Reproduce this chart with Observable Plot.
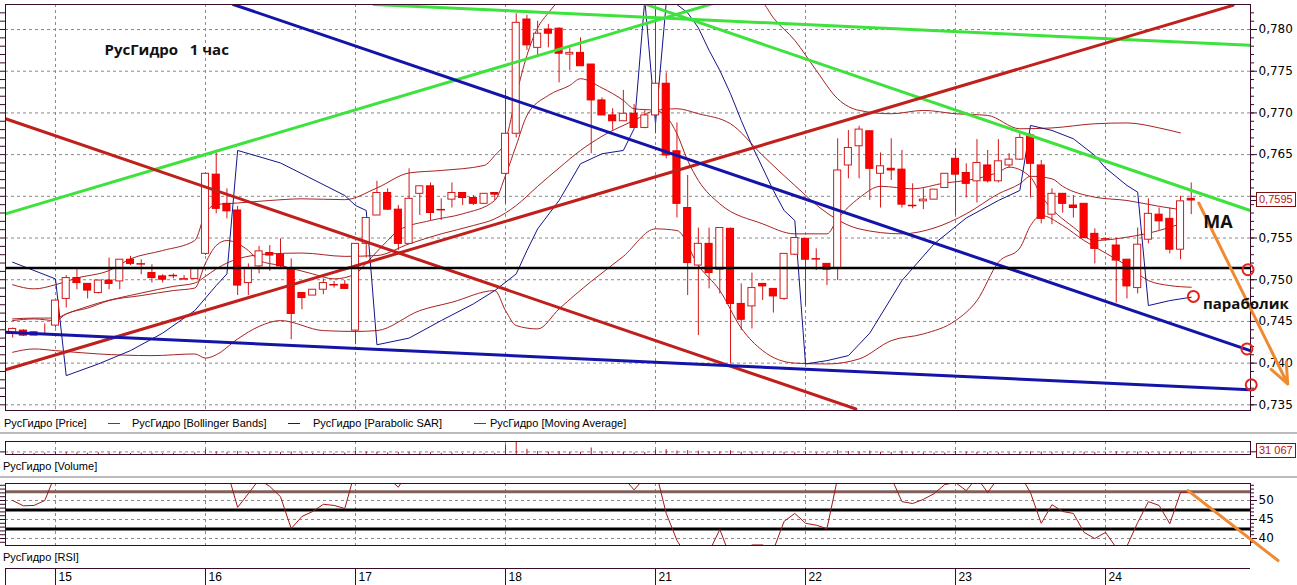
<!DOCTYPE html>
<html><head><meta charset="utf-8">
<script src="https://cdn.jsdelivr.net/npm/d3@7"></script>
<script src="https://cdn.jsdelivr.net/npm/@observablehq/plot@0.6"></script>
<style>
html,body{margin:0;padding:0;background:#fff;}
#root{position:relative;width:1297px;height:585px;overflow:hidden;font-family:"Liberation Sans",Arial,sans-serif;}
#root svg{position:absolute;left:0;overflow:visible;}
.t{position:absolute;font-size:11px;line-height:11px;white-space:pre;color:#000;}
.sw{position:absolute;height:1px;width:12px;}
.sep{position:absolute;left:0;width:1297px;height:2px;background:#bcbcbc;}
.box{position:absolute;border:1px solid #7a1010;background:#fff;color:#c01010;font-size:11px;line-height:13px;padding:0 2px;white-space:pre;}
</style></head><body><div id="root"></div>
<script>
// ---------- data ----------
const days = ["15","16","17","18","21","22","23","24"];
const dayStart = [4,18,32,46,60,74,88,102];

const open = [.7435,.7439,.7437,.7435,
 .7445,.7477,.7502,.7495,.7484,.7499,.7498,.7524,.7519,.7508,.7504,.7505,.7501,.7501,
 .7531,.7626,.7591,.7583,.7496,.7516,.7532,.7530,.7513,.7484,.7481,.7488,.7494,.7494,
 .7439,.7543,.7577,.7604,.7584,.7543,.7603,.7612,.7584,.7596,.7604,.7598,.7591,.7604,
 .7627,.7675,.7812,.7778,.7800,.7801,.7770,.7772,.7758,.7715,.7697,.7690,.7699,.7682,
 .7697,.7735,.7654,.7586,.7517,.7543,.7512,.7561,.7471,.7468,.7495,.7489,.7477,.7530,
 .7549,.7525,.7519,.7514,.7637,.7660,.7678,.7627,.7633,.7632,.7589,.7594,.7596,.7610,
 .7645,.7628,.7618,.7637,.7618,.7637,.7644,.7673,.7637,.7578,.7603,.7589,.7591,.7555,
 .7549,.7541,.7524,.7490,.7548,.7578,.7573,.7536,.7597];
const high = [.7442,.7440,.7438,.7447,
 .7475,.7505,.7512,.7495,.7499,.7526,.7524,.7528,.7524,.7518,.7506,.7507,.7505,.7513,
 .7628,.7652,.7609,.7588,.7519,.7540,.7541,.7549,.7525,.7484,.7488,.7501,.7498,.7499,
 .7543,.7574,.7618,.7609,.7589,.7633,.7612,.7616,.7597,.7616,.7604,.7601,.7603,.7604,
 .7727,.7819,.7817,.7810,.7806,.7802,.7778,.7790,.7758,.7718,.7705,.7727,.7710,.7703,
 .7826,.7748,.7688,.7625,.7562,.7562,.7562,.7562,.7495,.7508,.7495,.7489,.7531,.7550,
 .7549,.7537,.7519,.7669,.7679,.7684,.7678,.7652,.7669,.7655,.7615,.7609,.7608,.7627,
 .7657,.7639,.7668,.7655,.7668,.7651,.7675,.7675,.7643,.7609,.7603,.7601,.7591,.7561,
 .7550,.7550,.7524,.7562,.7597,.7586,.7586,.7600,.7616];
const low = [.7430,.7432,.7433,.7433,
 .7442,.7466,.7488,.7477,.7483,.7488,.7488,.7517,.7506,.7496,.7496,.7501,.7500,.7500,
 .7529,.7579,.7573,.7481,.7481,.7507,.7510,.7514,.7428,.7464,.7481,.7482,.7490,.7489,
 .7422,.7526,.7577,.7583,.7535,.7543,.7577,.7571,.7571,.7586,.7589,.7589,.7591,.7595,
 .7591,.7670,.7775,.7769,.7778,.7736,.7751,.7756,.7651,.7697,.7679,.7690,.7682,.7681,
 .7675,.7645,.7574,.7481,.7433,.7489,.7483,.7399,.7439,.7441,.7475,.7460,.7475,.7529,
 .7469,.7511,.7493,.7499,.7621,.7621,.7595,.7586,.7619,.7586,.7585,.7584,.7596,.7610,
 .7577,.7598,.7592,.7616,.7616,.7634,.7643,.7598,.7567,.7566,.7580,.7574,.7549,.7519,
 .7548,.7472,.7477,.7483,.7543,.7559,.7531,.7524,.7578];
const close = [.7441,.7433,.7433,.7435,
 .7475,.7502,.7496,.7487,.7499,.7495,.7524,.7519,.7519,.7502,.7500,.7505,.7501,.7513,
 .7627,.7585,.7582,.7493,.7513,.7534,.7529,.7516,.7459,.7478,.7488,.7496,.7494,.7489,
 .7543,.7574,.7604,.7584,.7543,.7597,.7612,.7580,.7584,.7604,.7598,.7591,.7603,.7602,
 .7675,.7808,.7781,.7795,.7795,.7771,.7772,.7756,.7715,.7697,.7690,.7699,.7682,.7697,
 .7735,.7649,.7591,.7520,.7543,.7508,.7562,.7471,.7452,.7490,.7492,.7480,.7531,.7550,
 .7524,.7525,.7512,.7631,.7658,.7680,.7633,.7636,.7631,.7590,.7589,.7596,.7608,.7627,
 .7626,.7615,.7640,.7618,.7642,.7644,.7670,.7639,.7573,.7603,.7591,.7586,.7550,.7537,
 .7549,.7523,.7492,.7542,.7579,.7570,.7536,.7594,.7595];
const volume = [14000,9000,12000,16000,
 30000,22000,18000,15000,20000,17000,25000,12000,16000,14000,11000,13000,9000,18000,
 55000,28000,20000,35000,24000,18000,15000,21000,30000,16000,12000,14000,10000,17000,
 40000,30000,26000,18000,22000,25000,17000,20000,14000,16000,12000,15000,11000,13000,
 110000,160000,60000,35000,28000,30000,22000,25000,75000,30000,20000,24000,18000,22000,
 50000,55000,40000,45000,38000,28000,30000,42000,26000,22000,15000,18000,25000,20000,
 30000,20000,18000,45000,35000,28000,40000,25000,22000,38000,20000,18000,15000,17000,
 35000,28000,24000,20000,18000,15000,22000,30000,28000,20000,17000,15000,25000,22000,
 20000,30000,26000,28000,22000,18000,25000,27000,31067];
const rsi = [50.0,48.6,48.7,50.0,
 57,60,59,58,60,59,62,62,61,60,59,59,58,60,
 68,60,58,48.2,51.8,55.5,53.7,51.0,42.6,45.8,47.1,49.0,48.7,47.9,
 58,61,63,56,53.5,58,60,57,58,60,59,58,60,59,
 66,74,70,71,70,65,65,62,57,56,57,56,52.8,56,
 58,46.6,39.5,35,37,36.5,42.4,35,36,38.3,38.3,37,44.5,46.6,
 44,43.5,42.6,56,60,62,58,57,56,49.7,49.2,50.3,51.8,54.2,
 54.7,52.6,56,52.1,56,59,57,52,44,48.9,47.1,46.6,41.6,40,
 41.6,37.6,38.0,44.2,49.7,48.7,43.9,52.1,52.3];

// indicator lines: [bar, value]
const bbUpper = [[0,.7494],[2,.7489],[4,.7494],[6,.7502],[9,.7511],[11,.7525],[14,.7535],[17,.7547],[18,.7580],[19,.7590],[21,.7592],[24,.7595],[27,.7597],[31,.7596],[34,.7610],[37,.7628],[40,.7631],[44,.7637],[45,.7649],[46,.7667],[47,.7721],[48,.7769],[49,.7802],[50,.7820],[51,.7835],[54,.7865],[58,.7883],[62,.7877],[66,.7853],[69,.7837],[70,.7832],[71,.7814],[73,.7787],[75,.7751],[77,.7717],[79,.7703],[82,.7699],[85,.7703],[88,.7699],[91,.7697],[94,.7681],[97,.7682],[101,.7687],[104,.7688],[107,.7682],[109,.7676]];
const bbMiddle = [[0,.7453],[2,.7454],[4,.7454],[5,.7459],[8,.7472],[12,.7484],[15,.7492],[17,.7496],[18,.7504],[19,.7513],[21,.7525],[24,.7531],[27,.7532],[31,.7528],[34,.7529],[37,.7543],[40,.7555],[43,.7565],[45,.7573],[47,.7589],[49,.7612],[51,.7634],[53,.7655],[55,.7672],[58,.7691],[60,.7703],[62,.7705],[64,.7699],[67,.7687],[70,.7649],[73,.7613],[76,.7580],[79,.7561],[83,.7555],[86,.7562],[89,.7579],[92,.7603],[94,.7615],[95,.7624],[97,.7621],[98,.7612],[101,.7599],[104,.7595],[107,.7588],[109,.7584]];
const bbLower = [[0,.7413],[2,.7417],[4,.7415],[8,.7411],[13,.7409],[17,.7411],[18,.7406],[19,.7410],[21,.7429],[23,.7444],[25,.7451],[29,.7439],[32,.7438],[34,.7439],[38,.7463],[41,.7473],[45,.7487],[46,.7463],[47,.7445],[49,.7441],[51,.7465],[54,.7498],[57,.7528],[60,.7561],[62,.7559],[64,.7517],[66,.7487],[68,.7442],[70,.7415],[73,.7400],[76,.7399],[79,.7405],[82,.7427],[85,.7435],[88,.7451],[90,.7475],[92,.7521],[94,.7538],[95,.7565],[96,.7577],[98,.7565],[100,.7547],[102,.7532],[104,.7517],[106,.7499],[108,.7493],[110,.7491]];
const movingAvg = [[0,.7451],[2,.7453],[4,.7451],[5,.7459],[7,.7466],[9,.7475],[12,.7481],[15,.7487],[17,.7490],[18,.7520],[19,.7541],[20,.7547],[22,.7535],[23,.7523],[25,.7517],[28,.7507],[30,.7501],[32,.7507],[33,.7520],[35,.7547],[36,.7559],[39,.7571],[42,.7579],[45,.7595],[46,.7625],[47,.7661],[48,.7697],[50,.7721],[52,.7733],[53,.7741],[55,.7730],[57,.7715],[58,.7705],[60,.7703],[61,.7696],[62,.7675],[63,.7643],[64,.7619],[66,.7591],[70,.7567],[73,.7555],[76,.7555],[77,.7573],[79,.7598],[81,.7612],[84,.7609],[87,.7616],[89,.7619],[92,.7629],[93,.7635],[95,.7623],[96,.7601],[99,.7563],[101,.7547],[104,.7551],[107,.7559],[109,.7567]];
const parabolicSar = [[0,.7521],[4,.7501],[5,.7385],[8,.7399],[11,.7415],[14,.7436],[17,.7463],[19,.7493],[20,.7507],[21,.7655],[25,.7640],[31,.7601],[32,.7589],[33,.7583],[34,.7422],[37,.7430],[40,.7451],[43,.7471],[45,.7487],[47,.7507],[48,.7535],[49,.7561],[51,.7595],[53,.7639],[55,.7651],[57,.7655],[58,.7681],[59,.7836],[60,.7687],[61,.7832],[62,.7830],[63,.7820],[64,.7802],[65,.7775],[66,.7751],[67,.7723],[68,.7691],[69,.7661],[70,.7634],[71,.7607],[72,.7583],[73,.7571],[74,.7399],[76,.7403],[78,.7409],[80,.7436],[83,.7499],[86,.7543],[89,.7574],[92,.7595],[94,.7607],[95,.7685],[97,.7679],[99,.7669],[101,.7649],[102,.7634],[104,.7613],[105,.7605],[106,.7469],[108,.7475],[110,.7479]];

// hand-drawn analysis lines: endpoints [bar, price]
const greenLines = [[[-0.666,.7579],[65.6,.7832]], [[33.7,.7830],[115.5,.7781]], [[58.9,.7831],[115.5,.7583]]];
const redLines = [[[-0.666,.7693],[78.7,.7345]], [[-0.666,.7392],[113.9,.7829]]];
const blueLines = [[[20.6,.7830],[115.5,.7415]], [[-0.666,.7437],[115.5,.7368]]];
const supportLevel = [0.7514];
const markCircles = [[115.3,.7512],[110.2,.7480],[115.2,.7417],[115.6,.7374]];
const arrowPrice = [{x1:110.7, y1:.7592, x2:119.0, y2:.7375}];
const arrowRsi = [[109.7,52.6],[118.1,34.2]];
const labelMA = [{text:"MA", i:112.5, v:.7569}];
const labelSar = [{text:"параболик", i:115.1, v:.7471}];
const title = ["РусГидро   1 час"];

const priceTicks = d3.range(735, 781, 5).map(v => v/1000);
const priceMinor = d3.range(735, 783).map(v => v/1000);
const rsiTicks = [40,45,50];
const rsiMinor = d3.range(39,55);
const rsiBlackLevels = [47.5, 42.5];
const rsiBrownLevel = [52.3];
const volGrid = [30000];

// ---------- drawing ----------
const root = document.getElementById("root");
const xDomain = [-0.666, 115.53];
const frameC = "#3a0a2a", gridC = "#8a8a8a";
const dash = {stroke: gridC, strokeDasharray: "3,3", strokeWidth: 1};
const lastClose = close[close.length - 1];
// the last-price box covers the nearest tick label, as in the terminal
const fmt = d => Math.abs(d - lastClose) < 0.0015 ? "" : d.toFixed(3).replace(".", ",");
const pts = a => a.map(([i, v]) => ({i, v}));
const rows = open.map((o, i) => ({i, o, h: high[i], l: low[i], c: close[i]}));
const base = {width: 1297, marginLeft: 5, marginRight: 47,
  style: {fontFamily: "DejaVu Sans", fontSize: "12px", background: "transparent", color: "#000", overflow: "visible"}};
const thin = (data, stroke, curve) => Plot.line(pts(data), {x: "i", y: "v", stroke, strokeWidth: 1, curve, clip: true});
const thick = (lines, stroke) => lines.map(l => Plot.line(pts(l), {x: "i", y: "v", stroke, strokeWidth: 3, clip: true}));

const price = Plot.plot({...base, height: 415, marginTop: 4, marginBottom: 5,
  x: {domain: xDomain, axis: null},
  y: {domain: [0.73432, 0.78300], axis: null},
  marks: [
    Plot.ruleY(priceTicks, dash),
    Plot.ruleX(dayStart, dash),
    thin(bbUpper, "#a82222", "monotone-x"),
    thin(bbMiddle, "#a82222", "monotone-x"),
    thin(bbLower, "#a82222", "monotone-x"),
    thin(movingAvg, "#a82222", "monotone-x"),
    thin(parabolicSar, "#14148a", "linear"),
    Plot.ruleX(rows, {x: "i", y1: "l", y2: "h", stroke: "#d81414", clip: true}),
    Plot.rect(rows.filter(d => d.c < d.o), {x1: d => d.i - 0.33, x2: d => d.i + 0.33, y1: "o", y2: "c", fill: "#ff0000", stroke: "#e00000", clip: true}),
    Plot.rect(rows.filter(d => d.c > d.o), {x1: d => d.i - 0.33, x2: d => d.i + 0.33, y1: "o", y2: "c", fill: "#ffffff", stroke: "#d41a1a", clip: true}),
    Plot.ruleY(rows.filter(d => d.c === d.o), {y: "c", x1: d => d.i - 0.4, x2: d => d.i + 0.4, stroke: "#e00000", strokeWidth: 1.5, clip: true}),
    ...thick(greenLines, "#3de23d"),
    ...thick(redLines, "#c0201c"),
    ...thick(blueLines, "#1414a8"),
    Plot.ruleY(supportLevel, {stroke: "#000", strokeWidth: 2.5}),
    Plot.frame({stroke: frameC}),
    Plot.axisY(priceTicks, {anchor: "right", tickSize: 6, tickPadding: 2, tickFormat: fmt, label: null, stroke: frameC, fill: "#000", fontSize: 12}),
    Plot.axisY(priceMinor, {anchor: "right", tickSize: 3, tickFormat: () => "", label: null, stroke: frameC}),
    Plot.axisY(priceMinor, {anchor: "left", tickSize: 5, tickFormat: () => "", label: null, stroke: frameC}),
    Plot.axisY([lastClose], {anchor: "right", tickSize: 6, tickFormat: () => "", label: null, stroke: frameC}),
    Plot.dot(markCircles, {x: d => d[0], y: d => d[1], r: 5.5, stroke: "#e8201a", strokeWidth: 2, fill: "none"}),
    Plot.arrow(arrowPrice, {x1: "x1", y1: "y1", x2: "x2", y2: "y2", stroke: "#f08a30", strokeWidth: 3, headLength: 11, headAngle: 45}),
    Plot.text(labelMA, {x: "i", y: "v", text: "text", fontWeight: "bold", fontSize: 18, fontFamily: "Open Sans", fill: "#111"}),
    Plot.text(labelSar, {x: "i", y: "v", text: "text", fontWeight: "bold", fontSize: 15, fontFamily: "Open Sans", fill: "#111"}),
    Plot.text(title, {frameAnchor: "top-left", dx: 99, dy: 40, lineAnchor: "top", textAnchor: "start", fontWeight: "bold", fontSize: 15, fontFamily: "Open Sans", fill: "#111"})
  ]});
price.style.top = "0px";
root.appendChild(price);

const volRows = volume.map((v, i) => ({i, v}));
const vol = Plot.plot({...base, height: 24, marginTop: 5, marginBottom: 6,
  x: {domain: xDomain, axis: null},
  y: {domain: [0, 150000], axis: null},
  marks: [
    Plot.ruleY(volGrid, dash),
    Plot.ruleX(dayStart, dash),
    Plot.ruleX(volRows, {x: "i", y1: 0, y2: "v", stroke: "#b41414", clip: true}),
    Plot.frame({stroke: frameC}),
    Plot.axisY(volGrid, {anchor: "left", tickSize: 5, tickFormat: () => "", label: null, stroke: frameC}),
    Plot.axisY([volume[volume.length - 1]], {anchor: "right", tickSize: 6, tickFormat: () => "", label: null, stroke: frameC})
  ]});
vol.style.top = "436px";
root.appendChild(vol);

const rsiRows = rsi.map((v, i) => ({i, v}));
const rsiPlot = Plot.plot({...base, height: 90, marginTop: 5, marginBottom: 23,
  x: {domain: xDomain, axis: null},
  y: {domain: [38.16, 54.47], axis: null},
  marks: [
    Plot.ruleY(rsiTicks, dash),
    Plot.ruleX(dayStart, dash),
    Plot.ruleY(rsiBrownLevel, {stroke: "#80605a", strokeWidth: 3}),
    Plot.ruleY(rsiBlackLevels, {stroke: "#000", strokeWidth: 3}),
    Plot.line(rsiRows, {x: "i", y: "v", stroke: "#a01818", strokeWidth: 1, clip: true}),
    Plot.frame({stroke: frameC}),
    Plot.axisY(rsiTicks, {anchor: "right", tickSize: 6, tickPadding: 2, label: null, stroke: frameC, fill: "#000", fontSize: 12}),
    Plot.axisY(rsiMinor, {anchor: "right", tickSize: 3, tickFormat: () => "", label: null, stroke: frameC}),
    Plot.axisY(rsiMinor, {anchor: "left", tickSize: 5, tickFormat: () => "", label: null, stroke: frameC}),
    Plot.line(pts(arrowRsi), {x: "i", y: "v", stroke: "#f08a30", strokeWidth: 3})
  ]});
rsiPlot.style.top = "478px";
root.appendChild(rsiPlot);

const time = Plot.plot({...base, height: 19, marginTop: 2, marginBottom: 0,
  x: {domain: xDomain, axis: null},
  y: {domain: [0, 1], axis: null},
  style: {...base.style, fontFamily: "Liberation Sans", fontSize: "12px"},
  marks: [
    Plot.ruleY([1], {stroke: frameC}),
    Plot.ruleX([xDomain[0], ...dayStart], {y1: 0, y2: 1, stroke: frameC}),
    Plot.text(days, {x: (d, i) => dayStart[i], y: 0.5, dx: 3, textAnchor: "start", fill: "#000"})
  ]});
time.style.top = "566px";
root.appendChild(time);

// legends, panel captions, value boxes
function add(cls, css, text) {
  const e = document.createElement("div");
  e.className = cls; Object.assign(e.style, css);
  if (text != null) e.textContent = text;
  root.appendChild(e); return e;
}
add("sep", {top: "432px"});
add("sep", {top: "476px"});
add("t", {left: "4px", top: "418px"}, "РусГидро [Price]");
add("sw", {left: "108px", top: "423px", background: "#a82222"});
add("t", {left: "132px", top: "418px"}, "РусГидро [Bollinger Bands]");
add("sw", {left: "288px", top: "423px", background: "#14148a"});
add("t", {left: "313px", top: "418px"}, "РусГидро [Parabolic SAR]");
add("sw", {left: "474px", top: "423px", background: "#a82222"});
add("t", {left: "490px", top: "418px"}, "РусГидро [Moving Average]");
add("t", {left: "3px", top: "461px"}, "РусГидро [Volume]");
add("t", {left: "3px", top: "552px"}, "РусГидро [RSI]");

const yP = price.scale("y");
add("box", {left: "1256px", top: (yP.apply(lastClose) - 8) + "px"}, lastClose.toFixed(4).replace(".", ","));
const yV = vol.scale("y");
const lastVol = volume[volume.length - 1];
add("box", {left: "1256px", top: (436 + yV.apply(lastVol) - 8) + "px"}, d3.format(",")(lastVol).replace(",", " "));
</script></body></html>
